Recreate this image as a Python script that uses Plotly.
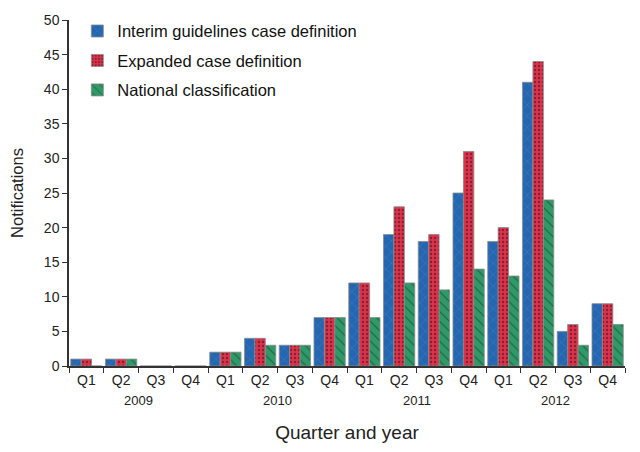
import plotly.graph_objects as go

# Notifications per quarter, 2009-2012
quarters = ["Q1", "Q2", "Q3", "Q4"] * 4
years = ["2009", "2010", "2011", "2012"]

interim = [1, 1, 0, 0, 2, 4, 3, 7, 12, 19, 18, 25, 18, 41, 5, 9]
expanded = [1, 1, 0, 0, 2, 4, 3, 7, 12, 23, 19, 31, 20, 44, 6, 9]
national = [0, 1, 0, 0, 2, 3, 3, 7, 7, 12, 11, 14, 13, 24, 3, 6]

y_ticks = [0, 5, 10, 15, 20, 25, 30, 35, 40, 45, 50]

xpos = list(range(len(quarters)))

fig = go.Figure()

fig.add_trace(go.Bar(x=xpos, y=interim, name="Interim guidelines case definition", legendgroup="a",
                     marker=dict(color="#2566b0", line=dict(color="#8a8a8a", width=0.8),
                                 pattern=dict(shape="x", fgcolor="#5e9ad8", size=8, solidity=0.12))))
fig.add_trace(go.Bar(x=xpos, y=expanded, name="Expanded case definition", legendgroup="b",
                     marker=dict(color="#e0304a", line=dict(color="#8a8a8a", width=0.8),
                                 pattern=dict(shape=".", fgcolor="#1a1a1a", size=4, solidity=0.3))))
fig.add_trace(go.Bar(x=xpos, y=national, name="National classification", legendgroup="c",
                     marker=dict(color="#2e9a68", line=dict(color="#8a8a8a", width=0.8),
                                 pattern=dict(shape="\\", fgcolor="#1a1a1a", size=7, solidity=0.15))))

# year labels under each group of four quarters
for i, yr in enumerate(years):
    fig.add_annotation(x=i * 4 + 1.5, y=0, xref="x", yref="paper", text=yr, showarrow=False,
                       yanchor="top", yshift=-25, font=dict(size=13, color="#222"))

# page has an 8px body margin, so the figure is a bit smaller than the window
fig.update_layout(
    width=632, height=444,
    margin=dict(l=61, r=15, t=12, b=86, autoexpand=False),
    paper_bgcolor="white", plot_bgcolor="white",
    font=dict(family="Liberation Sans, Arial, sans-serif", size=14, color="#222"),
    barmode="group", bargap=0.1, bargroupgap=0,
    showlegend=True,
    legend=dict(x=0.015, y=1.018, xanchor="left", yanchor="top", bgcolor="rgba(0,0,0,0)",
                font=dict(size=16.5, color="#111"), tracegroupgap=5, itemwidth=30),
    xaxis=dict(range=[-0.5, 15.5], tickvals=xpos, ticktext=quarters, ticks="", ticklabelstandoff=0,
               showline=True, linecolor="#333", linewidth=1.5, showgrid=False, zeroline=False,
               automargin=False,
               minor=dict(tickvals=[v - 0.5 for v in xpos] + [15.5], ticks="outside", ticklen=5,
                          tickcolor="#333", showgrid=False),
               title=dict(text="Quarter and year", font=dict(size=19), standoff=39)),
    yaxis=dict(range=[0, 50], tickvals=y_ticks, showline=True, linecolor="#333", linewidth=1.5,
               ticks="outside", ticklen=5, tickcolor="#333", showgrid=False, zeroline=False,
               automargin=False,
               title=dict(text="Notifications", font=dict(size=16.5), standoff=17)),
)

fig.write_html("out.html")
